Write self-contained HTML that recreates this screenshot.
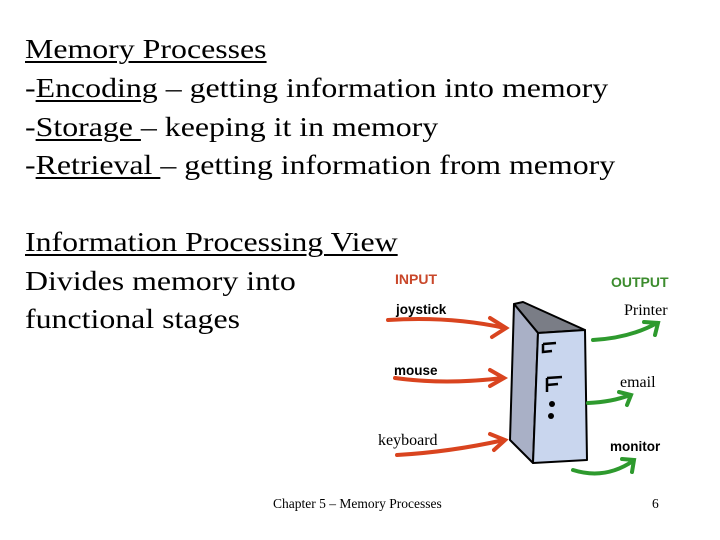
<!DOCTYPE html>
<html><head><style>
body{margin:0;width:720px;height:540px;background:#fff;position:relative;overflow:hidden;font-family:"Liberation Serif",serif;}
.t{position:absolute;left:25px;font-size:27px;color:#000;white-space:nowrap;line-height:1;transform:scaleX(1.18);transform-origin:0 0;}
u{text-decoration-thickness:2px;text-underline-offset:3px}
.s{position:absolute;font-family:"Liberation Sans",sans-serif;font-weight:bold;white-space:nowrap;line-height:1}
.r{position:absolute;font-family:"Liberation Serif",serif;white-space:nowrap;line-height:1;font-size:16px}
</style></head><body>
<div class="t" style="top:36px"><u>Memory Processes</u></div>
<div class="t" style="top:75px">-<u>Encoding</u> – getting information into memory</div>
<div class="t" style="top:114px">-<u>Storage </u>– keeping it in memory</div>
<div class="t" style="top:152px">-<u>Retrieval </u>– getting information from memory</div>
<div class="t" style="top:229px"><u>Information Processing View</u></div>
<div class="t" style="top:268px">Divides memory into</div>
<div class="t" style="top:306px">functional stages</div>

<svg width="720" height="540" style="position:absolute;left:0;top:0">
<g stroke="#000" stroke-width="2" stroke-linejoin="round">
<polygon points="514,304 523,302 585,330 538,333" fill="#7a7d86"/>
<polygon points="514,304 538,333 533,463 510,440" fill="#a9b0c6"/>
<polygon points="538,333 585,330 587,460 533,463" fill="#c9d6ee"/>
</g>
<g stroke="#000" stroke-width="2.5" fill="none">
<path d="M543,344 L556,343 M543,344 L543,352 L552,351"/>
<path d="M547,378 L562,377 M547,378 L547,392 M547,385 L558,384"/>
</g>
<circle cx="552" cy="404" r="3" fill="#000"/><circle cx="551" cy="416" r="3" fill="#000"/>
<g stroke="#d9441f" stroke-width="4" fill="none" stroke-linecap="round">
<path d="M388,320 Q450,316 505,328"/><path d="M490,318 L506,328 L492,337"/>
<path d="M395,378 Q445,385 503,378"/><path d="M490,370 L504,378 L490,386"/>
<path d="M397,455 Q450,452 504,440"/><path d="M490,434 L505,440 L494,450"/>
</g>
<g stroke="#2e9a2e" stroke-width="4" fill="none" stroke-linecap="round">
<path d="M593,340 Q630,338 657,323"/><path d="M644,322 L658,323 L655,335"/>
<path d="M588,403 Q612,402 630,395"/><path d="M619,392 L631,395 L627,405"/>
<path d="M573,470 Q605,480 633,461"/><path d="M622,459 L634,460 L632,472"/>
</g>
</svg>
<div class="s" style="left:395px;top:272px;font-size:14px;color:#c9472a">INPUT</div>
<div class="s" style="left:611px;top:275px;font-size:14px;color:#3c8c2e">OUTPUT</div>
<div class="s" style="left:396px;top:303px;font-size:13.5px">joystick</div>
<div class="s" style="left:394px;top:364px;font-size:13.5px">mouse</div>
<div class="s" style="left:610px;top:440px;font-size:13.5px">monitor</div>
<div class="r" style="left:378px;top:433px">keyboard</div>
<div class="r" style="left:624px;top:303px">Printer</div>
<div class="r" style="left:620px;top:375px">email</div>
<div class="r" style="left:273px;top:497px;font-size:13.5px">Chapter 5 – Memory Processes</div>
<div class="r" style="left:652px;top:497px;font-size:13.5px">6</div>
</body></html>
